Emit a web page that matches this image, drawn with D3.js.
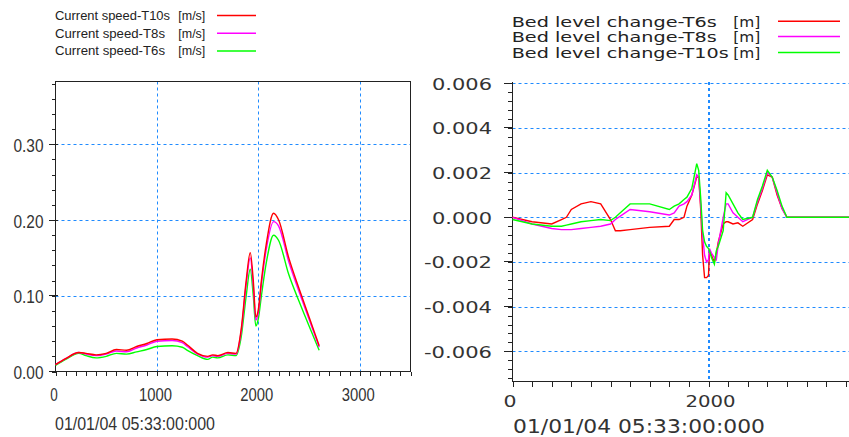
<!DOCTYPE html>
<html><head><meta charset="utf-8">
<script src="https://cdn.jsdelivr.net/npm/d3@7"></script>
<style>body{margin:0;background:#fff}svg{display:block}</style>
</head><body>
<svg id="c" width="849" height="437"></svg>
<script>
// ---------- data: left chart (current speed) ----------
const speedX   = [0,100,230,300,400,500,600,700,800,900,1000,1150,1250,1300,1400,1500,1550,1600,1700,1780,1830,1880,1920,1950,1975,2000,2030,2080,2150,2200,2300,2400,2500,2600];
const speedT10 = [0.009,0.017,0.025,0.024,0.022,0.024,0.029,0.028,0.033,0.037,0.042,0.043,0.040,0.035,0.024,0.020,0.022,0.021,0.025,0.024,0.055,0.120,0.157,0.120,0.072,0.082,0.120,0.170,0.209,0.200,0.150,0.110,0.072,0.034];
const speedT8  = [0.009,0.017,0.025,0.023,0.021,0.023,0.027,0.026,0.031,0.035,0.040,0.041,0.038,0.033,0.023,0.019,0.021,0.020,0.024,0.023,0.052,0.115,0.150,0.113,0.068,0.078,0.115,0.163,0.198,0.192,0.145,0.106,0.069,0.032];
const speedT6  = [0.008,0.016,0.024,0.021,0.018,0.020,0.024,0.023,0.026,0.029,0.033,0.034,0.032,0.028,0.021,0.016,0.019,0.018,0.022,0.021,0.045,0.100,0.135,0.100,0.060,0.070,0.100,0.145,0.180,0.173,0.128,0.093,0.060,0.028];
const speedNames = ["Current speed-T10s","Current speed-T8s","Current speed-T6s"];
const speedUnit  = "[m/s]";
const speedYTicks = [0.00,0.10,0.20,0.30];
const speedXTicks = [0,1000,2000,3000];

// ---------- data: right chart (bed level change) ----------
const bedX   = [0,200,400,500,550,600,700,800,900,1000,1050,1100,1200,1400,1600,1650,1700,1750,1780,1830,1880,1900,1920,1940,1960,1980,2000,2010,2030,2060,2080,2100,2150,2180,2200,2250,2300,2350,2450,2500,2550,2600,2650,2700,2750,2800,3500];
const bedT6  = [0,-0.0002,-0.0003,-0.0001,0,0.00035,0.0006,0.0007,0.0006,-0.0001,-0.0006,-0.0006,-0.00055,-0.00045,-0.0004,-0.0001,-0.0001,0,0.0005,0.001,0.0018,0.0018,0.0004,-0.0017,-0.0027,-0.0027,-0.0026,-0.0015,-0.0017,-0.002,-0.0016,-0.0011,-0.0003,-0.0002,-0.0002,-0.0003,-0.00025,-0.0004,-0.0001,0.0006,0.0012,0.0019,0.0018,0.001,0.0004,0,0];
const bedT8  = [0,-0.0003,-0.0005,-0.00055,-0.00055,-0.00055,-0.0005,-0.00045,-0.0004,-0.0003,-0.0001,0.00005,0.00035,0.00025,0.0001,0.0002,0.0005,0.0006,0.0007,0.001,0.0019,0.0018,0.0006,-0.0008,-0.0017,-0.002,-0.0019,-0.0014,-0.0016,-0.0018,-0.0019,-0.0012,0,0.0006,0.0006,0.0002,0,-0.0002,0,0.0007,0.0013,0.002,0.0018,0.0011,0.0004,0,0];
const bedT10 = [-0.0001,-0.0003,-0.0004,-0.0004,-0.00035,-0.0003,-0.0002,-0.00015,-0.0001,-0.00015,0,0.0002,0.0006,0.0006,0.00035,0.0005,0.0006,0.0008,0.0009,0.0013,0.0024,0.0021,0.0009,-0.0006,-0.0011,-0.0013,-0.0014,-0.0015,-0.0018,-0.0021,-0.0015,-0.0013,-0.0006,0.0011,0.001,0.0006,0.0002,-0.0001,0,0.0008,0.0014,0.0021,0.0018,0.0012,0.0005,0,0];
const bedNames = ["Bed level change-T6s","Bed level change-T8s","Bed level change-T10s"];
const bedUnit  = "[m]";
const bedYTicks = [0.006,0.004,0.002,0.000,-0.002,-0.004,-0.006];
const bedXTicks = [0,2000];
const dateLabel = "01/01/04 05:33:00:000";

const RED="#ff0000", MAG="#ff00ff", GRN="#00ff00", GRID="#1f8bff", AX="#222";
const svg = d3.select("#c");
svg.append("rect").attr("width",849).attr("height",437).attr("fill","#fff");

const narrow = "'Liberation Sans Narrow','Liberation Sans',Arial,sans-serif";
const wide = "'DejaVu Sans',Verdana,sans-serif";

// ================= LEFT CHART =================
const xL = d3.scaleLinear([0,3500],[55.5,410.5]);
const yL = d3.scaleLinear([0,0.383],[371.5,81.5]);
const gL = svg.append("g");

gL.selectAll(".hg").data(speedYTicks.filter(v=>v>0)).join("line")
  .attr("x1",xL(0)).attr("x2",xL(3500)).attr("y1",d=>Math.round(yL(d))+0.5).attr("y2",d=>Math.round(yL(d))+0.5)
  .attr("stroke",GRID).attr("stroke-dasharray","3,3");
gL.selectAll(".vg").data(speedXTicks.filter(v=>v>0)).join("line")
  .attr("y1",yL(0.383)).attr("y2",yL(0)).attr("x1",d=>Math.round(xL(d))+0.5).attr("x2",d=>Math.round(xL(d))+0.5)
  .attr("stroke",GRID).attr("stroke-dasharray","3,3");

gL.append("rect").attr("x",xL(0)).attr("y",yL(0.383)).attr("width",xL(3500)-xL(0)).attr("height",yL(0)-yL(0.383))
  .attr("fill","none").attr("stroke",AX).attr("shape-rendering","crispEdges");

gL.append("g").attr("transform",`translate(0,${yL(0)})`)
  .call(d3.axisBottom(xL).tickValues(d3.range(0,3501,100)).tickSize(4).tickFormat(""))
  .call(g=>{g.select(".domain").remove();g.selectAll("line").attr("stroke",AX).attr("shape-rendering","crispEdges");});
gL.append("g").attr("transform",`translate(${xL(0)},0)`)
  .call(d3.axisLeft(yL).tickValues(d3.range(0,20).map(i=>i*0.02)).tickSize(4).tickFormat(""))
  .call(g=>{g.select(".domain").remove();g.selectAll("line").attr("stroke",AX).attr("shape-rendering","crispEdges");});
gL.selectAll(".myt").data(speedYTicks).join("line")
  .attr("x1",xL(0)-7).attr("x2",xL(0)+2).attr("y1",d=>yL(d)).attr("y2",d=>yL(d))
  .attr("stroke",AX).attr("shape-rendering","crispEdges");

gL.selectAll(".yl").data(speedYTicks).join("text")
  .attr("x",43.5).attr("y",d=>yL(d)+7.5).attr("text-anchor","end")
  .attr("font-family",narrow).attr("font-size",19).attr("fill","#333")
  .attr("textLength",30).attr("lengthAdjust","spacingAndGlyphs")
  .text(d=>d.toFixed(2));
gL.selectAll(".xl").data(speedXTicks).join("text")
  .attr("x",d=>xL(d)-1.5).attr("y",401).attr("text-anchor","middle")
  .attr("font-family",narrow).attr("font-size",19).attr("fill","#333")
  .attr("textLength",d=>d===0?7.5:33).attr("lengthAdjust","spacingAndGlyphs")
  .text(d=>String(d));
gL.append("text").attr("x",55).attr("y",430).attr("font-family",narrow).attr("font-size",18).attr("fill","#333")
  .attr("textLength",160).attr("lengthAdjust","spacingAndGlyphs").text(dateLabel);

const lineL = d3.line().x((d,i)=>xL(speedX[i])).y(d=>yL(d)).curve(d3.curveMonotoneX);
const leftSeries = [[speedT6,GRN],[speedT8,MAG],[speedT10,RED]];
leftSeries.forEach(([s,c])=>{
  gL.append("path").attr("d",lineL(s)).attr("fill","none").attr("stroke",c).attr("stroke-width",1.4);
});

const legL = svg.append("g");
const legLColors=[RED,MAG,GRN], legLY=[15.5,33.3,51], legLW=[115,110,110];
speedNames.forEach((n,i)=>{
  legL.append("text").attr("x",55).attr("y",legLY[i]+4.3).attr("font-family","'Liberation Sans',Arial,sans-serif")
    .attr("font-size",12).attr("fill","#222").attr("textLength",legLW[i]).attr("lengthAdjust","spacingAndGlyphs").text(n);
  legL.append("text").attr("x",178.3).attr("y",legLY[i]+4.3).attr("font-family","'Liberation Sans',Arial,sans-serif")
    .attr("font-size",12).attr("fill","#222").attr("textLength",27).attr("lengthAdjust","spacingAndGlyphs").text(speedUnit);
  legL.append("line").attr("x1",217).attr("x2",256).attr("y1",legLY[i]).attr("y2",legLY[i]).attr("stroke",legLColors[i]).attr("stroke-width",1.4);
});

// ================= RIGHT CHART =================
const xR = d3.scaleLinear([0,3500],[512.5,855.5]);
const yR = d3.scaleLinear([-0.00735,0.00606],[381.5,81.9]);
const gR = svg.append("g");

gR.selectAll(".hg").data(bedYTicks).join("line")
  .attr("x1",xR(0)).attr("x2",849).attr("y1",d=>Math.round(yR(d))+0.5).attr("y2",d=>Math.round(yR(d))+0.5)
  .attr("stroke",GRID).attr("stroke-dasharray","3,3");
gR.selectAll(".vg").data(bedXTicks.filter(v=>v>0)).join("line")
  .attr("y1",yR(0.00606)).attr("y2",yR(-0.00735)).attr("x1",d=>Math.round(xR(d))).attr("x2",d=>Math.round(xR(d)))
  .attr("stroke",GRID).attr("stroke-width",2).attr("stroke-dasharray","3,3");

gR.append("line").attr("x1",xR(0)).attr("x2",xR(0)).attr("y1",yR(0.00606)).attr("y2",yR(-0.00735)).attr("stroke",AX).attr("stroke-width",1.2).attr("shape-rendering","crispEdges");
gR.append("line").attr("x1",xR(0)).attr("x2",849).attr("y1",yR(-0.00735)).attr("y2",yR(-0.00735)).attr("stroke",AX).attr("stroke-width",1.2).attr("shape-rendering","crispEdges");

gR.append("g").attr("transform",`translate(0,${yR(-0.00735)})`)
  .call(d3.axisBottom(xR).tickValues(d3.range(0,3401,200)).tickSize(5).tickFormat(""))
  .call(g=>{g.select(".domain").remove();g.selectAll("line").attr("stroke",AX).attr("shape-rendering","crispEdges");});
gR.append("g").attr("transform",`translate(${xR(0)},0)`)
  .call(d3.axisLeft(yR).tickValues(d3.range(-18,16).map(i=>i*0.0004)).tickSize(5).tickFormat(""))
  .call(g=>{g.select(".domain").remove();g.selectAll("line").attr("stroke",AX).attr("shape-rendering","crispEdges");});
gR.selectAll(".myt").data(bedYTicks).join("line")
  .attr("x1",xR(0)-9).attr("x2",xR(0)).attr("y1",d=>yR(d)).attr("y2",d=>yR(d))
  .attr("stroke",AX).attr("shape-rendering","crispEdges");

gR.selectAll(".yl").data(bedYTicks).join("text")
  .attr("x",492).attr("y",d=>yR(d)+6.5).attr("text-anchor","end")
  .attr("font-family",wide).attr("font-size",15).attr("fill","#333")
  .attr("textLength",d=>d<0?68:60).attr("lengthAdjust","spacingAndGlyphs")
  .text(d=>d.toFixed(3));
gR.selectAll(".xl").data(bedXTicks).join("text")
  .attr("x",d=>xR(d)+(d===0?-2.5:2)).attr("y",407).attr("text-anchor","middle")
  .attr("font-family",wide).attr("font-size",16).attr("fill","#333")
  .attr("textLength",d=>d===0?13:50).attr("lengthAdjust","spacingAndGlyphs")
  .text(d=>String(d));
gR.append("text").attr("x",513).attr("y",433).attr("font-family",wide).attr("font-size",19).attr("fill","#333")
  .attr("textLength",252).attr("lengthAdjust","spacingAndGlyphs").text(dateLabel);

const lineR = d3.line().x((d,i)=>xR(bedX[i])).y(d=>yR(d));
const rightSeries = [[bedT6,RED],[bedT8,MAG],[bedT10,GRN]];
rightSeries.forEach(([s,c])=>{
  gR.append("path").attr("d",lineR(s)).attr("fill","none").attr("stroke",c).attr("stroke-width",1.4);
});

const legR = svg.append("g");
const legRColors=[RED,MAG,GRN], legRY=[21.2,36.5,52.5], legRW=[205,205,217];
bedNames.forEach((n,i)=>{
  legR.append("text").attr("x",511.7).attr("y",legRY[i]+5.3).attr("font-family",wide)
    .attr("font-size",14).attr("fill","#222").attr("textLength",legRW[i]).attr("lengthAdjust","spacingAndGlyphs").text(n);
  legR.append("text").attr("x",733.3).attr("y",legRY[i]+5.3).attr("font-family",wide)
    .attr("font-size",14).attr("fill","#222").attr("textLength",27).attr("lengthAdjust","spacingAndGlyphs").text(bedUnit);
  legR.append("line").attr("x1",778).attr("x2",840).attr("y1",legRY[i]).attr("y2",legRY[i]).attr("stroke",legRColors[i]).attr("stroke-width",1.4);
});
</script>
</body></html>
